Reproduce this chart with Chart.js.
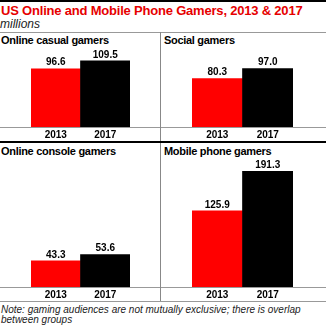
<!DOCTYPE html>
<html>
<head>
<meta charset="utf-8">
<script src="https://cdn.jsdelivr.net/npm/chart.js@4"></script>
<style>
  body { margin: 0; width: 326px; height: 326px; background: #fff; position: relative; overflow: hidden;
         font-family: "Liberation Sans", Arial, sans-serif; }
  .abs { position: absolute; }
  #topbar { left: 0; top: 0; width: 326px; height: 2px; background: #000; }
  #title { left: 1px; top: 3px; font-size: 13px; font-weight: bold; color: #e60000; letter-spacing: -0.2px; white-space: nowrap; }
  #sub { left: 0; top: 17px; font-size: 12px; font-style: italic; color: #222; }
  .hline { left: 0; width: 326px; height: 1px; background: #999; }
  .ptitle { font-size: 11px; font-weight: bold; color: #000; letter-spacing: -0.3px; white-space: nowrap; }
  #note { left: 1px; top: 305px; font-size: 10px; font-style: italic; color: #222; line-height: 10px; }
  canvas { position: absolute; }
</style>
</head>
<body>
<div class="abs" id="topbar"></div>
<div class="abs" id="title">US Online and Mobile Phone Gamers, 2013 &amp; 2017</div>
<div class="abs" id="sub">millions</div>
<div class="abs hline" style="top:32px"></div>
<div class="abs" style="left:160px; top:32px; width:1px; height:269px; background:#888"></div>
<div class="abs" style="left:0; top:141px; width:326px; height:2px; background:#000"></div>
<div class="abs hline" style="top:301px"></div>

<div class="abs ptitle" id="t0" style="left:1px; top:34px"></div>
<div class="abs ptitle" id="t1" style="left:164px; top:34px"></div>
<div class="abs ptitle" id="t2" style="left:1px; top:145px"></div>
<div class="abs ptitle" id="t3" style="left:164px; top:145px"></div>

<canvas id="c0" width="160" height="97" style="left:0; top:44px"></canvas>
<canvas id="c1" width="165" height="97" style="left:161px; top:44px"></canvas>
<canvas id="c2" width="160" height="143" style="left:0; top:158px"></canvas>
<canvas id="c3" width="165" height="143" style="left:161px; top:158px"></canvas>

<div class="abs" id="note">Note: gaming audiences are not mutually exclusive; there is overlap<br>between groups</div>

<script>
const years = ['2013', '2017'];
const panelTitles = ['Online casual gamers', 'Social gamers', 'Online console gamers', 'Mobile phone gamers'];
const casualGamers = [96.6, 109.5];
const socialGamers = [80.3, 97.0];
const consoleGamers = [43.3, 53.6];
const mobileGamers = [125.9, 191.3];

const barColors = ['#ff0000', '#000000'];
const FONT = '"Liberation Sans", Arial, sans-serif';

// value above each bar
const valueLabels = {
  id: 'valueLabels',
  afterDatasetsDraw(chart) {
    const ctx = chart.ctx;
    const vals = chart.data.datasets[0].data;
    ctx.save();
    ctx.font = 'bold 10px ' + FONT;
    ctx.fillStyle = '#000';
    ctx.textAlign = 'center';
    ctx.textBaseline = 'bottom';
    chart.getDatasetMeta(0).data.forEach((bar, i) => {
      ctx.fillText(vals[i].toFixed(1), bar.x, bar.y - 1);
    });
    ctx.restore();
  }
};

// grey baseline running the full width of the panel
const baseLine = {
  id: 'baseLine',
  afterDraw(chart) {
    const ctx = chart.ctx;
    const y = Math.round(chart.chartArea.bottom) + 0.5;
    ctx.save();
    ctx.strokeStyle = '#999';
    ctx.lineWidth = 1;
    ctx.beginPath();
    ctx.moveTo(0, y);
    ctx.lineTo(chart.width, y);
    ctx.stroke();
    ctx.restore();
  }
};

function makeChart(id, values, yMax, padLeft, padRight) {
  return new Chart(document.getElementById(id), {
    type: 'bar',
    data: {
      labels: years,
      datasets: [{ data: values, backgroundColor: barColors, borderWidth: 0,
                   barPercentage: 1, categoryPercentage: 1 }]
    },
    options: {
      responsive: false,
      animation: false,
      layout: { padding: { top: 10, left: padLeft, right: padRight, bottom: 0 } },
      plugins: { legend: { display: false }, tooltip: { enabled: false } },
      scales: {
        x: {
          grid: { display: false, drawTicks: false },
          border: { display: false },
          ticks: { color: '#000', padding: 2, font: { family: FONT, size: 10, weight: 'bold' } },
          afterFit(scale) { scale.height = 14; }
        },
        y: { display: false, min: 0, max: yMax }
      }
    },
    plugins: [valueLabels, baseLine]
  });
}

panelTitles.forEach((t, i) => { document.getElementById('t' + i).textContent = t; });

makeChart('c0', casualGamers, 121, 31, 30);
makeChart('c1', socialGamers, 121, 31, 33);
makeChart('c2', consoleGamers, 197, 31, 30);
makeChart('c3', mobileGamers, 197, 31, 33);
</script>
</body>
</html>
